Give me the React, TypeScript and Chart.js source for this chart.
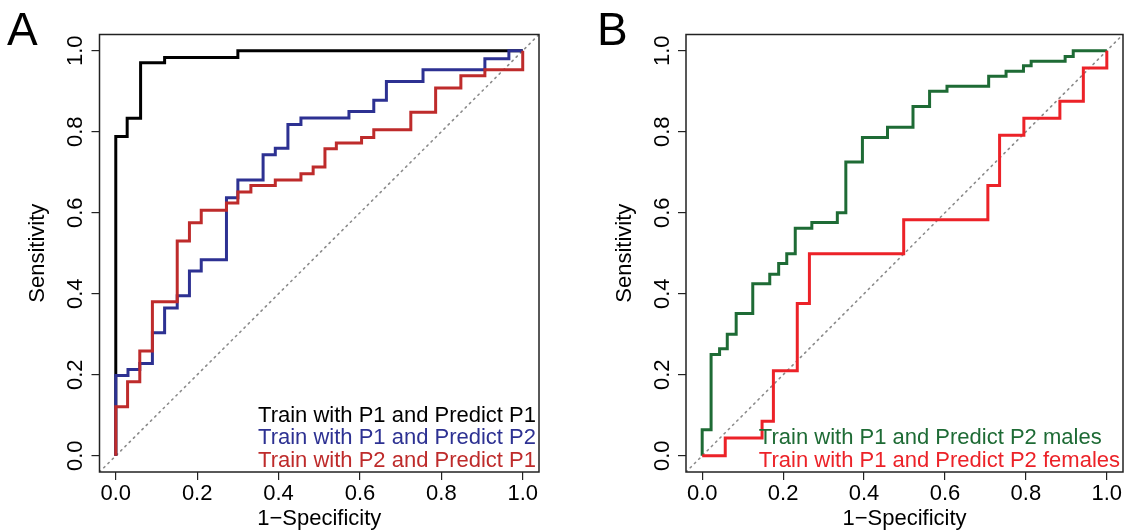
import React, { useEffect, useRef } from "react";
import { Chart, registerables } from "chart.js";

Chart.register(...registerables);

// ---------- data ----------
const TICKS = [0, 0.2, 0.4, 0.6, 0.8, 1.0];
const AXIS_MIN = -0.04;
const AXIS_MAX = 1.04;
const X_TITLE = "1\u2212Specificity";
const Y_TITLE = "Sensitivity";
const DIAG = [AXIS_MIN, AXIS_MAX];

const A_LABELS = [
  "Train with P1 and Predict P1",
  "Train with P1 and Predict P2",
  "Train with P2 and Predict P1",
];
// each point: x where the curve rises, y after the rise (step drawn horizontally first)
const A1_FPR = [0, 0, 0.028, 0.061, 0.12, 0.3, 1.0];
const A1_TPR = [0, 0.788, 0.833, 0.97, 0.983, 1.0, 1.0];

const A2_FPR = [0, 0, 0.03, 0.059, 0.09, 0.12, 0.151, 0.181, 0.21, 0.272, 0.3, 0.362, 0.392, 0.423, 0.455, 0.573, 0.634, 0.665, 0.755, 0.907, 0.966, 1.0];
const A2_TPR = [0, 0.198, 0.213, 0.228, 0.304, 0.365, 0.395, 0.456, 0.484, 0.637, 0.681, 0.743, 0.759, 0.818, 0.834, 0.85, 0.878, 0.924, 0.953, 0.98, 1.0, 1.0];

const A3_FPR = [0, 0, 0.029, 0.059, 0.09, 0.151, 0.181, 0.21, 0.272, 0.3, 0.332, 0.392, 0.455, 0.485, 0.514, 0.542, 0.604, 0.634, 0.725, 0.786, 0.848, 0.907, 1.0];
const A3_TPR = [0, 0.121, 0.183, 0.259, 0.38, 0.53, 0.575, 0.606, 0.624, 0.651, 0.667, 0.681, 0.696, 0.713, 0.758, 0.772, 0.786, 0.805, 0.848, 0.908, 0.938, 0.953, 1.0];

const B_LABELS = [
  "Train with P1 and Predict P2 males",
  "Train with P1 and Predict P2 females",
];
const B1_FPR = [0, 0, 0.022, 0.043, 0.062, 0.084, 0.125, 0.167, 0.189, 0.209, 0.23, 0.271, 0.334, 0.355, 0.396, 0.458, 0.521, 0.562, 0.605, 0.708, 0.751, 0.794, 0.813, 0.897, 0.917, 1.0];
const B1_TPR = [0, 0.064, 0.25, 0.264, 0.3, 0.351, 0.425, 0.448, 0.475, 0.499, 0.562, 0.576, 0.6, 0.725, 0.786, 0.811, 0.862, 0.9, 0.912, 0.937, 0.949, 0.963, 0.974, 0.986, 1.0, 1.0];

const B2_FPR = [0, 0.057, 0.148, 0.176, 0.235, 0.265, 0.498, 0.706, 0.735, 0.795, 0.884, 0.942, 1.0];
const B2_TPR = [0, 0.044, 0.085, 0.21, 0.376, 0.499, 0.583, 0.667, 0.791, 0.833, 0.875, 0.957, 1.0];

// ---------- styles / layout ----------
const FONT = "'Liberation Sans', Arial, Helvetica, sans-serif";
const FS = 22;
const COLORS_A = ["#000000", "#2D3192", "#BE2B2B"];
const COLORS_B = ["#1E6B35", "#EC2228"];
const W = 564;
const H = 532;
const BOX_TOP = 34.5;
const BOX_BOTTOM = 472;

const pts = (xs: number[], ys: number[]) => xs.map((x, i) => ({ x, y: ys[i] }));

const boxPlugin = {
  id: "boxFrame",
  afterDatasetsDraw(chart: any) {
    const { ctx, chartArea: a } = chart;
    ctx.save();
    ctx.strokeStyle = "#222";
    ctx.lineWidth = 1.5;
    ctx.strokeRect(a.left, a.top, a.right - a.left, a.bottom - a.top);
    ctx.restore();
  },
};

const insetLegend = {
  id: "insetLegend",
  afterDraw(chart: any, _args: any, opts: any) {
    const { ctx, chartArea } = chart;
    const items = chart.data.datasets.filter((d: any) => d.label);
    ctx.save();
    ctx.font = `${FS}px ${FONT}`;
    ctx.textBaseline = "alphabetic";
    ctx.textAlign = "left";
    const w = Math.max(...items.map((d: any) => ctx.measureText(d.label).width));
    const x = chartArea.right - opts.right - w;
    items.forEach((d: any, i: number) => {
      ctx.fillStyle = d.borderColor;
      ctx.fillText(d.label, x, chartArea.bottom - opts.bottom - (items.length - 1 - i) * opts.pitch);
    });
    ctx.restore();
  },
};

const panelTag = {
  id: "panelTag",
  afterDraw(chart: any, _args: any, opts: any) {
    const { ctx } = chart;
    ctx.save();
    ctx.font = `46px ${FONT}`;
    ctx.fillStyle = "#000";
    ctx.textBaseline = "alphabetic";
    ctx.fillText(opts.text, opts.x, opts.y);
    ctx.restore();
  },
};

function makeConfig(
  series: { label: string; xs: number[]; ys: number[]; color: string; order: number }[],
  yWidth: number,
  rightPad: number,
  tag: { text: string; x: number; y: number }
): any {
  const setTicks = (s: any) => {
    s.ticks = TICKS.map((value) => ({ value }));
  };
  const tickFmt = (v: any) => Number(v).toFixed(1);
  const grid = { drawOnChartArea: false, drawTicks: true, tickLength: 8, color: "#222", lineWidth: 1.2 };
  const datasets: any[] = series.map((s) => ({
    label: s.label,
    data: pts(s.xs, s.ys),
    borderColor: s.color,
    backgroundColor: s.color,
    borderWidth: 3,
    pointRadius: 0,
    stepped: "before",
    fill: false,
    order: s.order,
  }));
  datasets.push({
    label: "",
    data: pts(DIAG, DIAG),
    borderColor: "#8a8a8a",
    borderWidth: 1.6,
    borderDash: [1.5, 4.5],
    borderCapStyle: "round",
    pointRadius: 0,
    fill: false,
    order: 10,
  });
  return {
    type: "line",
    data: { datasets },
    plugins: [boxPlugin, insetLegend, panelTag],
    options: {
      animation: false,
      responsive: false,
      devicePixelRatio: 1,
      layout: { padding: { top: BOX_TOP, right: rightPad, left: 0, bottom: 0 } },
      plugins: {
        legend: { display: false },
        tooltip: { enabled: false },
        insetLegend: { right: 3, bottom: 5.3, pitch: 22.5 },
        panelTag: tag,
      },
      scales: {
        x: {
          type: "linear",
          min: AXIS_MIN,
          max: AXIS_MAX,
          afterBuildTicks: setTicks,
          afterFit: (s: any) => {
            s.height = H - BOX_BOTTOM;
          },
          ticks: { callback: tickFmt, font: { size: FS, family: FONT }, color: "#000", padding: 1, maxRotation: 0, autoSkip: false },
          grid,
          border: { display: false },
          title: { display: true, text: X_TITLE, color: "#000", font: { size: FS, family: FONT }, padding: { top: 0, bottom: 0 } },
        },
        y: {
          type: "linear",
          min: AXIS_MIN,
          max: AXIS_MAX,
          afterBuildTicks: setTicks,
          afterFit: (s: any) => {
            s.width = yWidth;
          },
          ticks: {
            callback: tickFmt,
            font: { size: FS, family: FONT },
            color: "#000",
            padding: 0,
            minRotation: 90,
            maxRotation: 90,
            crossAlign: "center",
            autoSkip: false,
          },
          grid,
          border: { display: false },
          title: {
            display: true,
            text: Y_TITLE,
            color: "#000",
            font: { size: FS, family: FONT },
            padding: { top: yWidth - 61.5 - (FS * 1.2) / 2, bottom: 0 },
          },
        },
      },
    },
  };
}

function Panel({ left, config }: { left: number; config: () => any }) {
  const ref = useRef<HTMLCanvasElement | null>(null);
  useEffect(() => {
    if (!ref.current) return;
    const chart = new Chart(ref.current, config());
    return () => chart.destroy();
  }, []);
  return (
    <canvas
      ref={ref}
      width={W}
      height={H}
      style={{ position: "absolute", left, top: 0, width: W, height: H, display: "block" }}
    />
  );
}

export default function App() {
  Chart.defaults.font.family = FONT;
  Chart.defaults.color = "#000";
  const cfgA = () =>
    makeConfig(
      [
        { label: A_LABELS[0], xs: A1_FPR, ys: A1_TPR, color: COLORS_A[0], order: 3 },
        { label: A_LABELS[1], xs: A2_FPR, ys: A2_TPR, color: COLORS_A[1], order: 2 },
        { label: A_LABELS[2], xs: A3_FPR, ys: A3_TPR, color: COLORS_A[2], order: 1 },
      ],
      99.5,
      W - 539,
      { text: "A", x: 7, y: 45 }
    );
  const cfgB = () =>
    makeConfig(
      [
        { label: B_LABELS[0], xs: B1_FPR, ys: B1_TPR, color: COLORS_B[0], order: 2 },
        { label: B_LABELS[1], xs: B2_FPR, ys: B2_TPR, color: COLORS_B[1], order: 1 },
      ],
      686 - W,
      W - (1123 - W),
      { text: "B", x: 597 - W, y: 45 }
    );
  return (
    <div style={{ position: "absolute", left: 0, top: 0, width: 1128, height: 532, background: "#fff", overflow: "hidden" }}>
      <Panel left={0} config={cfgA} />
      <Panel left={W} config={cfgB} />
    </div>
  );
}
